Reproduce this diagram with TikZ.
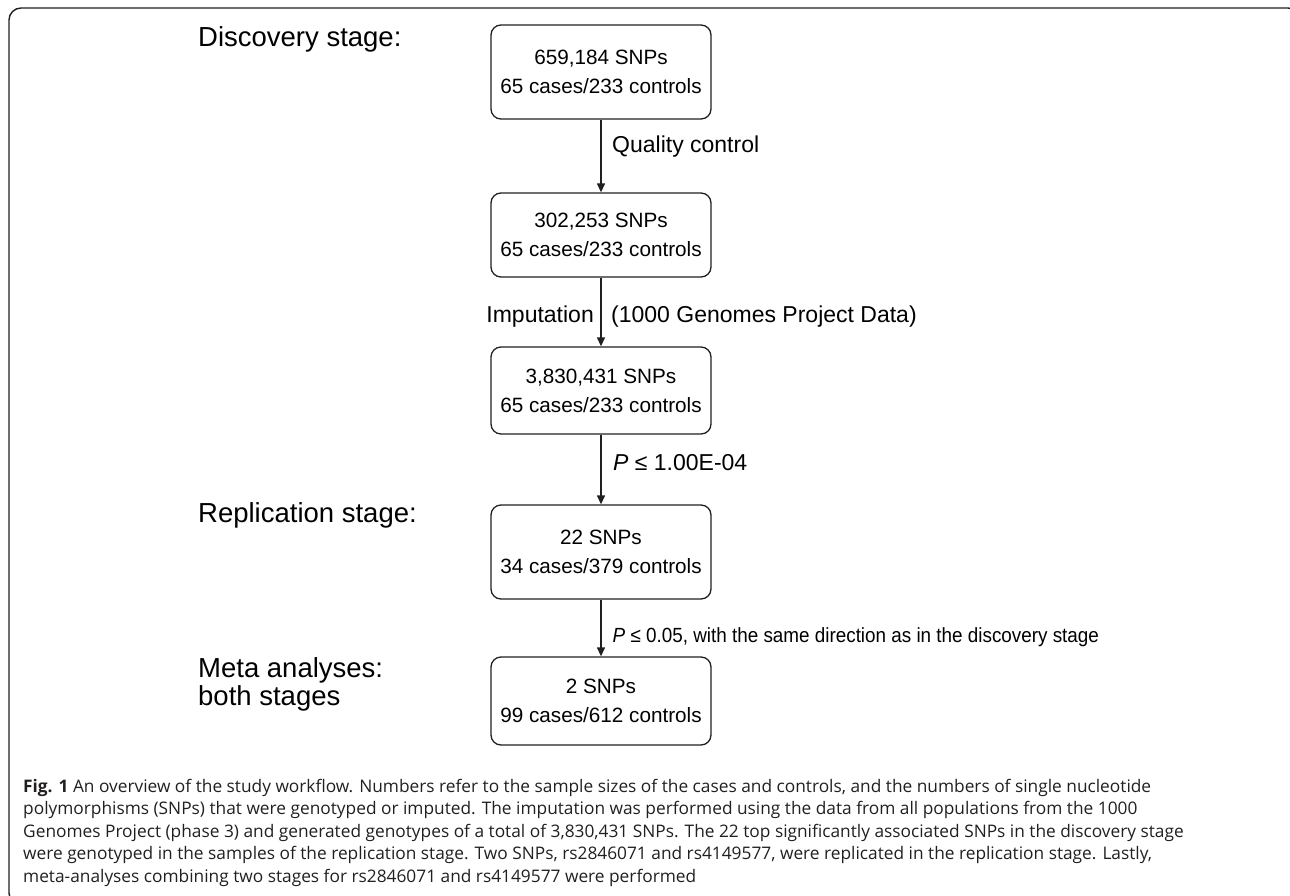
\documentclass[tikz,border=0pt]{standalone}
\usepackage{fontspec}
\setmainfont{Liberation Sans}
\newfontfamily\capfont{Open Sans}
\usetikzlibrary{arrows.meta}
\definecolor{ln}{HTML}{231F20}
\begin{document}
\begin{tikzpicture}[x=1pt,y=-1pt,
  box/.style={draw=ln, line width=1.3pt, rounded corners=10pt, minimum width=220pt, align=center, font=\fontsize{20.7}{29}\selectfont, inner sep=0pt},
  stagelbl/.style={anchor=base west, font=\fontsize{27.5}{28}\selectfont, inner sep=0pt},
  arrowlbl/.style={font=\fontsize{23}{26}\selectfont, inner sep=0pt},
  narrowlbl/.style={font=\fontsize{20.5}{24}\selectfont, inner sep=0pt},
  caption/.style={anchor=base west, font=\capfont\fontsize{17.3}{22}\selectfont, inner sep=0pt, text=ln},
  flow/.style={draw=ln, line width=1.3pt, -{Triangle[width=8pt,length=9pt]}}]
\useasboundingbox (0,0) rectangle (1290,896);
\begin{scope}
  \clip (0,0) rectangle (1290,896);
  \draw[ln, line width=1.4pt, rounded corners=12pt] (9,8) rectangle (1300,905);
\end{scope}
% stage labels
\node[stagelbl] (s1) at (198,47) {Discovery stage:};
\node[stagelbl] (s2) at (198,522) {Replication stage:};
\node[stagelbl] (s3) at (198,677) {Meta analyses:};
\node[stagelbl] (s4) at (198,705) {both stages};
% boxes
\node[box, minimum height=94pt] (b1) at (601,72) {659,184 SNPs\\65 cases/233 controls};
\node[box, minimum height=84pt] (b2) at (601,235) {302,253 SNPs\\65 cases/233 controls};
\node[box, minimum height=87pt] (b3) at (601,390.5) {3,830,431 SNPs\\65 cases/233 controls};
\node[box, minimum height=94pt] (b4) at (601,552) {22 SNPs\\34 cases/379 controls};
\node[box, minimum height=88pt] (b5) at (601,701) {2 SNPs\\99 cases/612 controls};
% connectors
\draw[flow] (b1.south) -- (b2.north);
\draw[flow] (b2.south) -- (b3.north);
\draw[flow] (b3.south) -- (b4.north);
\draw[flow] (b4.south) -- (b5.north);
% connector labels
\node[arrowlbl, anchor=base west] (l1) at (612,153) {Quality control};
\node[arrowlbl, anchor=base east] (l2) at (594,322) {Imputation};
\node[arrowlbl, anchor=base west] (l3) at (611,322) {(1000 Genomes Project Data)};
\node[arrowlbl, anchor=base west] (l4) at (613,470) {\itshape P\upshape{} ≤ 1.00E-04};
\node[narrowlbl, anchor=base west] (l5) at (612.5,642) {\scalebox{0.92}[1]{\itshape P\upshape{} ≤ 0.05, with the same direction as in the discovery stage}};
% caption
\node[caption] (c1) at (23,792) {\textbf{Fig. 1} An overview of the study workflow. Numbers refer to the sample sizes of the cases and controls, and the numbers of single nucleotide};
\node[caption] (c2) at (23,814.5) {polymorphisms (SNPs) that were genotyped or imputed. The imputation was performed using the data from all populations from the 1000};
\node[caption] (c3) at (23,837) {Genomes Project (phase 3) and generated genotypes of a total of 3,830,431 SNPs. The 22 top significantly associated SNPs in the discovery stage};
\node[caption] (c4) at (23,859.5) {were genotyped in the samples of the replication stage. Two SNPs, rs2846071 and rs4149577, were replicated in the replication stage. Lastly,};
\node[caption] (c5) at (23,882) {meta-analyses combining two stages for rs2846071 and rs4149577 were performed};
\end{tikzpicture}
\end{document}
